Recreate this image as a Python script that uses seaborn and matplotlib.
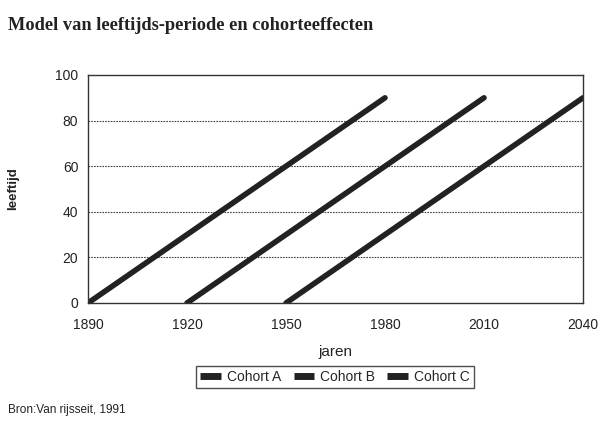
import matplotlib
matplotlib.use("Agg")
import matplotlib.pyplot as plt
import seaborn as sns
import pandas as pd

cohorts = ["Cohort A", "Cohort B", "Cohort C"]
start_years = [1890, 1920, 1950]
end_years = [1980, 2010, 2040]
start_ages = [0, 0, 0]
end_ages = [90, 90, 90]
x_ticks = [1890, 1920, 1950, 1980, 2010, 2040]
y_ticks = [0, 20, 40, 60, 80, 100]

rows = []
for c, sy, ey, sa, ea in zip(cohorts, start_years, end_years, start_ages, end_ages):
    rows.append({"jaren": sy, "leeftijd": sa, "cohort": c})
    rows.append({"jaren": ey, "leeftijd": ea, "cohort": c})
df = pd.DataFrame(rows)

sns.set_style("white")
plt.rcParams["font.family"] = ["Liberation Sans", "DejaVu Sans"]

fig = plt.figure(figsize=(6.04, 4.21), dpi=100)
ax = fig.add_axes([88/604, 1-303/421, (583-88)/604, (303-75)/421])

sns.lineplot(data=df, x="jaren", y="leeftijd", hue="cohort",
             palette=["#222222"]*3, linewidth=4, ax=ax, legend=True,
             solid_capstyle="round")

ax.set_xlim(1890, 2040)
ax.set_ylim(0, 100)
ax.set_xticks(x_ticks)
ax.set_yticks(y_ticks)
ax.tick_params(axis="both", length=0, labelsize=10, colors="#222222")
ax.tick_params(axis="x", pad=11)
ax.tick_params(axis="y", pad=7)
for v in y_ticks[1:-1]:
    ax.axhline(v, color="#444444", linestyle=(0, (1.5, 1)), linewidth=0.8, zorder=0)
for s in ax.spines.values():
    s.set_color("#333333")
    s.set_linewidth(1.0)
ax.set_xlabel("jaren", fontsize=11, color="#222222", labelpad=9)
ax.set_ylabel("leeftijd", fontsize=9.5, fontweight="bold", color="#222222", labelpad=26)

handles, labels = ax.get_legend_handles_labels()
ax.get_legend().remove()
leg = fig.legend(handles, labels, loc="center", bbox_to_anchor=(335/604, 1-377/421),
                 ncol=3, frameon=True, fancybox=False, fontsize=10,
                 handlelength=1.5, handletextpad=0.4, columnspacing=0.9,
                 borderpad=0.3, edgecolor="#222222")
leg.get_frame().set_linewidth(1.0)
for h in leg.get_lines():
    h.set_linewidth(5)
    h.set_solid_capstyle("butt")

fig.text(8/604, 1-25/421, "Model van leeftijds-periode en cohorteeffecten",
         fontsize=13.2, fontweight="bold", family="Liberation Serif", color="#222222",
         va="center", ha="left")
fig.text(8/604, 1-410/421, "Bron:Van rijsseit, 1991", fontsize=8.5, color="#222222",
         va="center", ha="left")

fig.savefig("out.png", dpi=100)
